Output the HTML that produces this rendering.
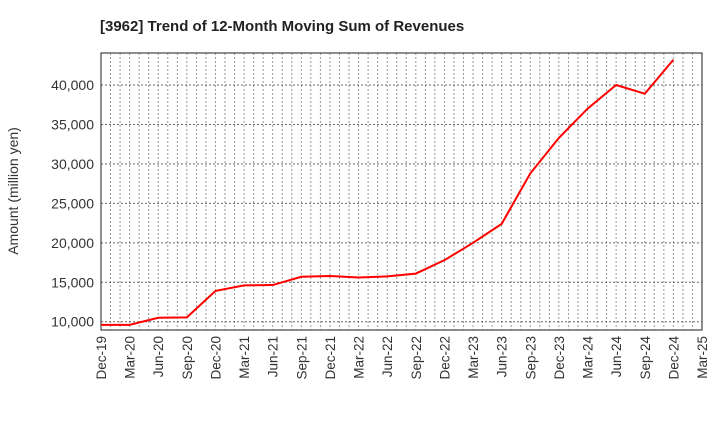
<!DOCTYPE html>
<html><head><meta charset="utf-8"><style>
body{margin:0;background:#fff;font-family:"Liberation Sans",sans-serif}
</style></head><body>
<svg id="c" width="720" height="440" xmlns="http://www.w3.org/2000/svg" font-family="Liberation Sans, sans-serif">
<text x="100" y="31" font-size="15" font-weight="bold" fill="#222">[3962]  Trend of 12-Month Moving Sum of Revenues</text>
<text transform="translate(18,191) rotate(-90)" text-anchor="middle" font-size="14" fill="#333">Amount (million yen)</text>
<g id="grid"></g><g id="axes"></g><g id="series"></g>
</svg>
<script>
const categories=["Dec-19","Mar-20","Jun-20","Sep-20","Dec-20","Mar-21","Jun-21","Sep-21","Dec-21","Mar-22","Jun-22","Sep-22","Dec-22","Mar-23","Jun-23","Sep-23","Dec-23","Mar-24","Jun-24","Sep-24","Dec-24","Mar-25"];
const revenues=[9600,9600,10500,10550,13900,14600,14650,15700,15800,15600,15750,16100,17800,20000,22400,28800,33300,37000,40000,38900,43200];
const yTicks=[10000,15000,20000,25000,30000,35000,40000];
const L=101,R=702,T=53,B=330,yMin=8950,yMax=44060;
const NS="http://www.w3.org/2000/svg";
const x=i=>L+(R-L)*i/(categories.length-1);
const y=v=>B-(B-T)*(v-yMin)/(yMax-yMin);
function mk(t,a,p){const e=document.createElementNS(NS,t);for(const k in a)e.setAttribute(k,a[k]);p.appendChild(e);return e;}
const g=document.getElementById('grid'),ax=document.getElementById('axes'),s=document.getElementById('series');
for(let m=1;m<(categories.length-1)*3;m++){const xx=L+(R-L)*m/((categories.length-1)*3);
const l=mk('line',{x1:xx,x2:xx,y1:T,y2:B,stroke:'#999','stroke-dasharray':'2,2','stroke-width':1},g);

}
yTicks.forEach(v=>{const l=mk('line',{x1:L,x2:R,y1:y(v),y2:y(v),stroke:'#666','stroke-dasharray':'2,2','stroke-width':1},g);


const t=mk('text',{x:L-7,y:y(v)+5,'text-anchor':'end','font-size':14,fill:'#333'},ax);t.textContent=v.toLocaleString('en-US');

});
categories.forEach((c,i)=>{const t=mk('text',{transform:`translate(${x(i)+5},${B+6}) rotate(-90)`,'text-anchor':'end','font-size':13.5,fill:'#333'},ax);t.textContent=c;

});
const fr=mk('rect',{x:L,y:T,width:R-L,height:B-T,fill:'none',stroke:'#444','stroke-width':1.2},ax);


const pl=mk('polyline',{points:revenues.map((v,i)=>x(i)+','+y(v)).join(' '),fill:'none',stroke:'#ff0000','stroke-width':2},s);


</script>
</body></html>
